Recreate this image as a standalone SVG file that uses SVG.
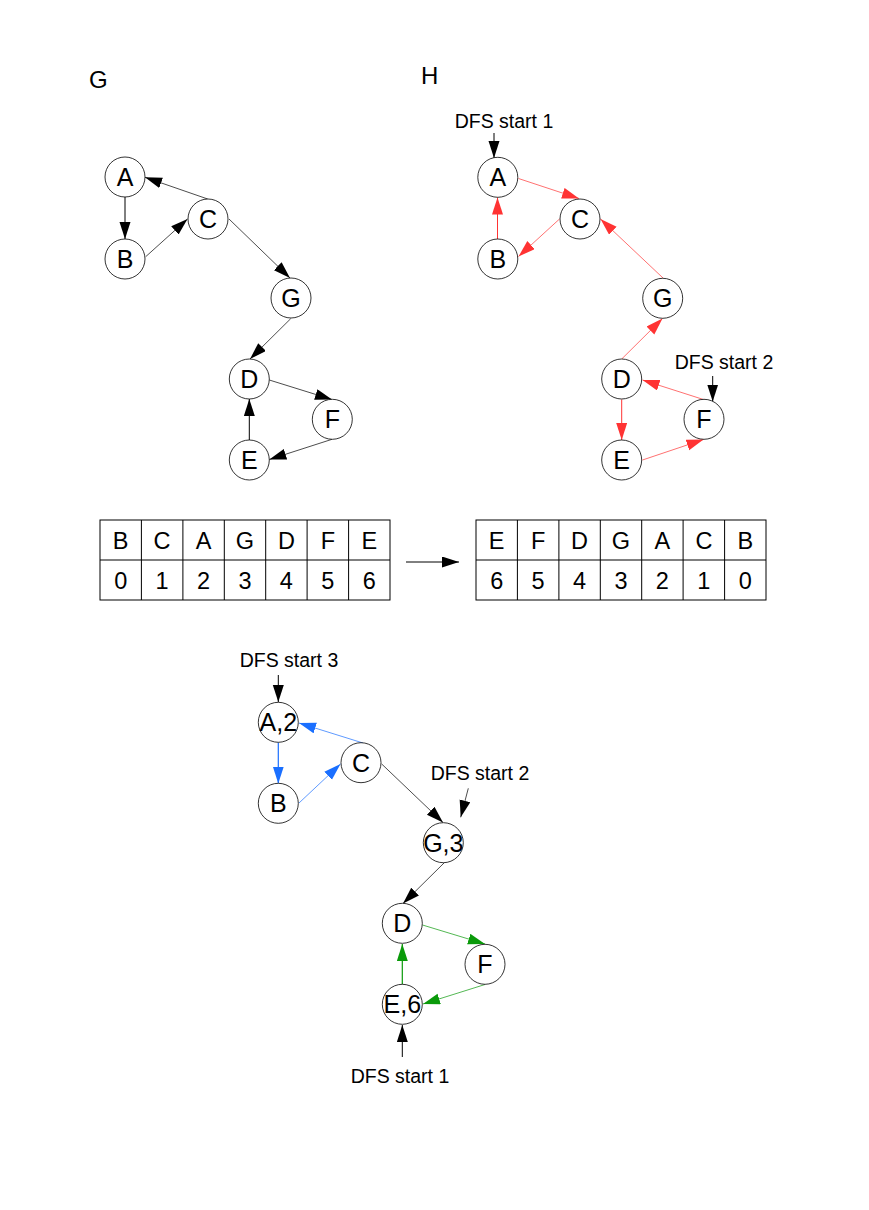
<svg xmlns="http://www.w3.org/2000/svg" width="869" height="1210" viewBox="0 0 869 1210">
<style>
text{font-family:"Liberation Sans",Arial,sans-serif;fill:#000}
.n circle{fill:#fff;stroke:#000;stroke-width:0.8}
.n text{font-size:25px;text-anchor:middle}
.lbl{font-size:19.5px;text-anchor:middle}
.title{font-size:24px}
.tb rect,.tb line{fill:none;stroke:#000;stroke-width:1}
.tb text{font-size:23.5px;text-anchor:middle}
.k{stroke:#000;stroke-width:0.7;fill:none}
.k1{stroke:#000;stroke-width:1;fill:none}
.r{stroke:#ff3333;stroke-width:0.7;fill:none}
.r1{stroke:#ff3333;stroke-width:1;fill:none}
.b{stroke:#1a6fff;stroke-width:0.7;fill:none}
.b1{stroke:#1a6fff;stroke-width:1.2;fill:none}
.g{stroke:#0a9a0a;stroke-width:0.7;fill:none}
.g1{stroke:#0a9a0a;stroke-width:1.2;fill:none}
</style>
<defs>
<marker id="ak" markerUnits="userSpaceOnUse" markerWidth="18" markerHeight="12" refX="17" refY="5.5" orient="auto"><path d="M0,0 L17,5.5 L0,11 z" fill="#000"/></marker>
<marker id="ar" markerUnits="userSpaceOnUse" markerWidth="18" markerHeight="12" refX="17" refY="5.5" orient="auto"><path d="M0,0 L17,5.5 L0,11 z" fill="#ff3333"/></marker>
<marker id="ab" markerUnits="userSpaceOnUse" markerWidth="18" markerHeight="12" refX="17" refY="5.5" orient="auto"><path d="M0,0 L17,5.5 L0,11 z" fill="#1a6fff"/></marker>
<marker id="ag" markerUnits="userSpaceOnUse" markerWidth="18" markerHeight="12" refX="17" refY="5.5" orient="auto"><path d="M0,0 L17,5.5 L0,11 z" fill="#0a9a0a"/></marker>
</defs>

<text class="title" x="89" y="88">G</text>
<text class="title" x="421" y="84">H</text>

<g id="connectors">
<!-- Graph G -->
<line class="k" x1="207.7" y1="199" x2="145" y2="177.3" marker-end="url(#ak)"/>
<line class="k1" x1="125" y1="197" x2="125" y2="239" marker-end="url(#ak)"/>
<line class="k" x1="145.7" y1="256.7" x2="187.5" y2="219" marker-end="url(#ak)"/>
<line class="k" x1="229" y1="219" x2="290" y2="278" marker-end="url(#ak)"/>
<line class="k" x1="290.7" y1="318.7" x2="250" y2="359" marker-end="url(#ak)"/>
<line class="k" x1="269.3" y1="380" x2="332" y2="399.5" marker-end="url(#ak)"/>
<line class="k" x1="332" y1="439.3" x2="269.3" y2="459.5" marker-end="url(#ak)"/>
<line class="k1" x1="249.3" y1="440" x2="249.3" y2="399" marker-end="url(#ak)"/>
<!-- Graph H -->
<line class="k1" x1="494" y1="133" x2="494" y2="158" marker-end="url(#ak)"/>
<line class="r" x1="518.5" y1="178.5" x2="579" y2="198.5" marker-end="url(#ar)"/>
<line class="r1" x1="497.5" y1="239" x2="497.5" y2="197.5" marker-end="url(#ar)"/>
<line class="r" x1="559.5" y1="219" x2="518.5" y2="256.5" marker-end="url(#ar)"/>
<line class="r" x1="663" y1="278" x2="600.5" y2="219" marker-end="url(#ar)"/>
<line class="r" x1="621.7" y1="359" x2="662.5" y2="318.5" marker-end="url(#ar)"/>
<line class="r1" x1="621.7" y1="399.5" x2="621.7" y2="440" marker-end="url(#ar)"/>
<line class="r" x1="642.5" y1="460" x2="703.5" y2="439.5" marker-end="url(#ar)"/>
<line class="r" x1="705" y1="400" x2="642.5" y2="380" marker-end="url(#ar)"/>
<line class="k1" x1="712.7" y1="376" x2="712.7" y2="401.5" marker-end="url(#ak)"/>
<!-- table arrow -->
<line class="k1" x1="406" y1="562" x2="459" y2="562" marker-end="url(#ak)"/>
<!-- Bottom graph -->
<line class="k1" x1="278.3" y1="675" x2="278.3" y2="702" marker-end="url(#ak)"/>
<line class="b" x1="363" y1="743" x2="299" y2="723" marker-end="url(#ab)"/>
<line class="b1" x1="278.3" y1="742.5" x2="278.3" y2="783.5" marker-end="url(#ab)"/>
<line class="b" x1="299" y1="803" x2="340.5" y2="764" marker-end="url(#ab)"/>
<line class="k" x1="381.7" y1="764" x2="443" y2="822.5" marker-end="url(#ak)"/>
<line class="k" x1="444" y1="863" x2="403" y2="903.5" marker-end="url(#ak)"/>
<line class="g" x1="422.5" y1="925" x2="485" y2="944" marker-end="url(#ag)"/>
<line class="g" x1="485" y1="984.5" x2="423" y2="1004" marker-end="url(#ag)"/>
<line class="g1" x1="402.3" y1="984.5" x2="402.3" y2="944" marker-end="url(#ag)"/>
<line class="k" x1="468.3" y1="788.3" x2="460.7" y2="817.3" marker-end="url(#ak)"/>
<line class="k1" x1="402.3" y1="1057" x2="402.3" y2="1025" marker-end="url(#ak)"/>
</g>

<!-- Graph G nodes -->
<g id="g-A" class="n"><circle cx="125" cy="177" r="20"/><text x="125" y="186">A</text></g>
<g id="g-B" class="n"><circle cx="125" cy="259" r="20"/><text x="125" y="268">B</text></g>
<g id="g-C" class="n"><circle cx="208" cy="219" r="20"/><text x="208" y="228">C</text></g>
<g id="g-G" class="n"><circle cx="291" cy="298" r="20"/><text x="291" y="307">G</text></g>
<g id="g-D" class="n"><circle cx="249.3" cy="379" r="20"/><text x="249.3" y="388">D</text></g>
<g id="g-F" class="n"><circle cx="332.3" cy="419.3" r="20"/><text x="332.3" y="428.3">F</text></g>
<g id="g-E" class="n"><circle cx="249.3" cy="460" r="20"/><text x="249.3" y="469">E</text></g>

<!-- Graph H nodes -->
<g id="h-label1"><text class="lbl" x="504" y="128">DFS start 1</text></g>
<g id="h-A" class="n"><circle cx="497.8" cy="177.3" r="20"/><text x="497.8" y="186.3">A</text></g>
<g id="h-B" class="n"><circle cx="497.8" cy="259" r="20"/><text x="497.8" y="268">B</text></g>
<g id="h-C" class="n"><circle cx="580" cy="219" r="20"/><text x="580" y="228">C</text></g>
<g id="h-G" class="n"><circle cx="662.7" cy="298.3" r="20"/><text x="662.7" y="307.3">G</text></g>
<g id="h-D" class="n"><circle cx="621.7" cy="379" r="20"/><text x="621.7" y="388">D</text></g>
<g id="h-F" class="n"><circle cx="704" cy="419.3" r="20"/><text x="704" y="428.3">F</text></g>
<g id="h-E" class="n"><circle cx="621.7" cy="460" r="20"/><text x="621.7" y="469">E</text></g>
<g id="h-label2"><text class="lbl" x="724" y="369">DFS start 2</text></g>

<!-- Tables -->
<g id="table-left" class="tb">
<rect x="100" y="520" width="290" height="80"/>
<line x1="100" y1="560" x2="390" y2="560"/>
<line x1="141.4" y1="520" x2="141.4" y2="600"/>
<line x1="182.9" y1="520" x2="182.9" y2="600"/>
<line x1="224.3" y1="520" x2="224.3" y2="600"/>
<line x1="265.7" y1="520" x2="265.7" y2="600"/>
<line x1="307.1" y1="520" x2="307.1" y2="600"/>
<line x1="348.6" y1="520" x2="348.6" y2="600"/>
<text x="120.7" y="548.5">B</text><text x="162.1" y="548.5">C</text><text x="203.6" y="548.5">A</text><text x="245" y="548.5">G</text><text x="286.4" y="548.5">D</text><text x="327.9" y="548.5">F</text><text x="369.3" y="548.5">E</text>
<text x="120.7" y="588.5">0</text><text x="162.1" y="588.5">1</text><text x="203.6" y="588.5">2</text><text x="245" y="588.5">3</text><text x="286.4" y="588.5">4</text><text x="327.9" y="588.5">5</text><text x="369.3" y="588.5">6</text>
</g>
<g id="table-right" class="tb">
<rect x="476" y="520" width="290" height="80"/>
<line x1="476" y1="560" x2="766" y2="560"/>
<line x1="517.4" y1="520" x2="517.4" y2="600"/>
<line x1="558.9" y1="520" x2="558.9" y2="600"/>
<line x1="600.3" y1="520" x2="600.3" y2="600"/>
<line x1="641.7" y1="520" x2="641.7" y2="600"/>
<line x1="683.1" y1="520" x2="683.1" y2="600"/>
<line x1="724.6" y1="520" x2="724.6" y2="600"/>
<text x="496.7" y="548.5">E</text><text x="538.1" y="548.5">F</text><text x="579.6" y="548.5">D</text><text x="621" y="548.5">G</text><text x="662.4" y="548.5">A</text><text x="703.9" y="548.5">C</text><text x="745.3" y="548.5">B</text>
<text x="496.7" y="588.5">6</text><text x="538.1" y="588.5">5</text><text x="579.6" y="588.5">4</text><text x="621" y="588.5">3</text><text x="662.4" y="588.5">2</text><text x="703.9" y="588.5">1</text><text x="745.3" y="588.5">0</text>
</g>

<!-- Bottom graph nodes -->
<g id="b-label3"><text class="lbl" x="289" y="667">DFS start 3</text></g>
<g id="b-A" class="n"><circle cx="278.3" cy="722.3" r="20"/><text x="278.3" y="731.3">A,2</text></g>
<g id="b-B" class="n"><circle cx="278.3" cy="803.3" r="20"/><text x="278.3" y="812.3">B</text></g>
<g id="b-C" class="n"><circle cx="361" cy="762.7" r="20"/><text x="361" y="771.7">C</text></g>
<g id="b-label2"><text class="lbl" x="480" y="780">DFS start 2</text></g>
<g id="b-G" class="n"><circle cx="443.3" cy="842.7" r="20"/><text x="443.3" y="851.7">G,3</text></g>
<g id="b-D" class="n"><circle cx="402.3" cy="923.3" r="20"/><text x="402.3" y="932.3">D</text></g>
<g id="b-F" class="n"><circle cx="485" cy="964.3" r="20"/><text x="485" y="973.3">F</text></g>
<g id="b-E" class="n"><circle cx="402.3" cy="1004.3" r="20"/><text x="402.3" y="1013.3">E,6</text></g>
<g id="b-label1"><text class="lbl" x="400" y="1083">DFS start 1</text></g>
</svg>
